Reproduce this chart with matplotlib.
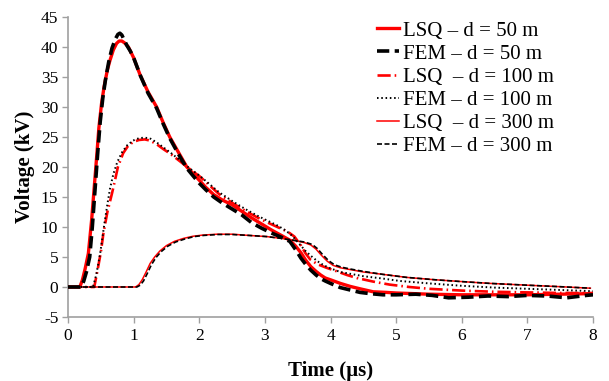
import matplotlib
matplotlib.use("Agg")
import matplotlib.pyplot as plt

plt.rcParams['font.family'] = ['Liberation Serif', 'DejaVu Serif']
plt.rcParams['axes.unicode_minus'] = False

# ---- data ----
t_lsq50 = [0, 0.18, 0.22, 0.26, 0.31, 0.36, 0.40, 0.44, 0.47, 0.51, 0.55, 0.60, 0.64, 0.69, 0.74, 0.78, 0.82, 0.86,
           0.92, 1.0, 1.1, 1.22, 1.35, 1.45, 1.55, 1.68, 1.81, 1.9, 2.0, 2.1, 2.22, 2.35, 2.5, 2.65, 2.8, 2.95, 3.1,
           3.25, 3.38, 3.47, 3.55, 3.62, 3.7, 3.78, 3.85, 3.92, 4.0, 4.15, 4.3, 4.45, 4.65, 4.85, 5.0, 5.5, 6.0, 7.0, 8.0]
v_lsq50 = [0, 0, 1.2, 3.0, 5.6, 11.2, 16.7, 22.2, 26.5, 30.5, 33.4, 36.2, 37.8, 39.5, 40.6, 41.0, 41.0, 40.7,
           40.0, 38.2, 35.3, 32.5, 30.0, 27.4, 25.0, 22.5, 20.0, 19.0, 17.8, 16.6, 15.4, 14.5, 13.7, 12.6, 11.5, 10.5, 9.5,
           8.6, 7.8, 6.8, 5.7, 4.5, 3.4, 2.6, 2.0, 1.5, 1.2, 0.6, 0.1, -0.3, -0.8, -0.9, -1.0, -1.2, -1.3, -1.3, -1.1]

t_fem50 = [0, 0.20, 0.24, 0.28, 0.33, 0.37, 0.41, 0.45, 0.49, 0.53, 0.57, 0.62, 0.67, 0.72, 0.76, 0.79, 0.82, 0.85,
           0.9, 0.95, 1.0, 1.1, 1.22, 1.35, 1.45, 1.55, 1.68, 1.81, 1.9, 2.0, 2.1, 2.22, 2.35, 2.5, 2.65, 2.8, 2.95,
           3.1, 3.25, 3.38, 3.47, 3.55, 3.62, 3.7, 3.78, 3.85, 3.92, 4.0, 4.15, 4.3, 4.45, 4.6, 4.8, 5.0, 5.3, 5.55,
           5.8, 6.1, 6.4, 6.7, 7.0, 7.3, 7.6, 7.9, 8.0]
v_fem50 = [0, 0, 1.0, 2.5, 5.0, 10.0, 16.0, 22.0, 27.5, 31.5, 34.5, 37.5, 39.8, 41.3, 42.1, 42.3, 42.0, 41.3,
           40.2, 39.3, 38.2, 35.3, 32.3, 29.8, 27.2, 24.8, 22.2, 19.8, 18.6, 17.3, 16.2, 15.0, 14.0, 13.0, 12.0, 10.7, 9.8,
           9.0, 8.3, 7.6, 6.2, 4.8, 3.8, 2.8, 2.0, 1.4, 1.0, 0.6, -0.1, -0.5, -0.9, -1.1, -1.3, -1.3, -1.2, -1.4,
           -1.8, -1.7, -1.5, -1.6, -1.4, -1.5, -1.8, -1.4, -1.3]

t_lsq100 = [0, 0.40, 0.45, 0.50, 0.54, 0.60, 0.67, 0.72, 0.76, 0.84, 0.92, 1.0, 1.08, 1.17, 1.25, 1.35, 1.45, 1.56,
            1.7, 1.85, 2.01, 2.15, 2.3, 2.52, 2.7, 2.9, 3.05, 3.23, 3.35, 3.45, 3.55, 3.62, 3.69, 3.8, 3.94, 4.1, 4.25,
            4.4, 4.65, 4.9, 5.2, 5.5, 6.0, 6.5, 7.0, 7.5, 8.0]
v_lsq100 = [0, 0, 2.8, 5.8, 9.0, 12.5, 15.6, 18.0, 20.0, 22.3, 23.6, 24.2, 24.5, 24.6, 24.4, 23.8, 23.0, 22.2,
            21.0, 19.7, 18.4, 17.0, 15.5, 13.9, 12.7, 11.5, 10.7, 9.8, 9.2, 8.4, 6.9, 5.6, 4.6, 3.8, 3.2, 2.6, 2.0,
            1.5, 0.9, 0.4, 0.0, -0.3, -0.6, -0.8, -0.9, -1.0, -1.0]

t_fem100 = [0, 0.38, 0.43, 0.49, 0.56, 0.60, 0.64, 0.69, 0.75, 0.82, 0.90, 0.99, 1.08, 1.17, 1.26, 1.35, 1.45, 1.56,
            1.7, 1.85, 2.01, 2.15, 2.3, 2.52, 2.7, 2.9, 3.05, 3.2, 3.32, 3.42, 3.54, 3.62, 3.7, 3.8, 3.9, 4.0, 4.15,
            4.3, 4.5, 4.8, 5.06, 5.5, 6.0, 6.5, 7.0, 7.5, 8.0]
v_fem100 = [0, 0, 2.0, 5.6, 11.0, 13.8, 16.4, 18.8, 20.8, 22.4, 23.6, 24.4, 24.8, 24.9, 24.7, 24.1, 23.3, 22.4,
            21.2, 19.8, 18.5, 17.2, 15.8, 14.2, 13.0, 11.8, 11.0, 10.2, 9.4, 8.5, 7.0, 6.0, 5.2, 4.3, 3.6, 3.1, 2.5,
            2.2, 1.8, 1.4, 1.0, 0.6, 0.2, -0.1, -0.3, -0.5, -0.7]

t_lsq300 = [0, 1.03, 1.08, 1.13, 1.19, 1.25, 1.32, 1.40, 1.50, 1.62, 1.76, 1.90, 2.05, 2.27, 2.5, 2.75, 3.03, 3.25,
            3.43, 3.6, 3.7, 3.78, 3.86, 3.95, 4.04, 4.15, 4.3, 4.5, 4.8, 5.16, 5.6, 6.0, 6.43, 7.0, 7.5, 7.96]
v_lsq300 = [0, 0, 0.4, 1.2, 2.5, 3.9, 5.0, 6.0, 6.9, 7.6, 8.1, 8.45, 8.65, 8.8, 8.8, 8.6, 8.4, 8.1,
            7.8, 7.4, 7.0, 6.3, 5.3, 4.3, 3.6, 3.2, 2.9, 2.5, 2.1, 1.6, 1.2, 0.9, 0.6, 0.3, 0.05, -0.2]

t_fem300 = [0, 1.05, 1.10, 1.15, 1.21, 1.27, 1.34, 1.42, 1.52, 1.64, 1.78, 1.92, 2.07, 2.29, 2.5, 2.75, 3.03, 3.25,
            3.43, 3.6, 3.72, 3.8, 3.88, 3.97, 4.06, 4.17, 4.3, 4.5, 4.8, 5.16, 5.6, 6.0, 6.43, 7.0, 7.5, 7.96]
v_fem300 = [0, 0, 0.3, 1.0, 2.3, 3.7, 4.9, 5.9, 6.8, 7.5, 8.0, 8.4, 8.6, 8.75, 8.75, 8.6, 8.4, 8.1,
            7.8, 7.5, 7.1, 6.4, 5.4, 4.4, 3.7, 3.3, 3.0, 2.6, 2.1, 1.6, 1.2, 0.9, 0.6, 0.3, 0.05, -0.2]

labels = ["LSQ \u2013 d = 50 m", "FEM \u2013 d = 50 m", "LSQ  \u2013 d = 100 m",
          "FEM \u2013 d = 100 m", "LSQ  \u2013 d = 300 m", "FEM \u2013 d = 300 m"]
x_ticks = [0, 1, 2, 3, 4, 5, 6, 7, 8]
y_ticks = [-5, 0, 5, 10, 15, 20, 25, 30, 35, 40, 45]

fig = plt.figure(figsize=(6.09, 3.81), dpi=100)
ax = fig.add_axes([0.1117, 0.168, 0.862, 0.7874])

ax.plot(t_lsq50, v_lsq50, color='#ff0000', lw=2.4, solid_joinstyle='round', label=labels[0], zorder=3)
ax.plot(t_fem50, v_fem50, color='black', lw=2.6, dashes=(3.4, 1.5), label=labels[1], zorder=4)
ax.plot(t_lsq100, v_lsq100, color='#ff0000', lw=1.9, dashes=(5, 1.5, 0.6, 1.5), label=labels[2], zorder=3)
ax.plot(t_fem100, v_fem100, color='black', lw=1.4, dashes=(0.8, 1.4), label=labels[3], zorder=4)
ax.plot(t_lsq300, v_lsq300, color='#ff0000', lw=1.1, label=labels[4], zorder=3)
ax.plot(t_fem300, v_fem300, color='black', lw=1.2, dashes=(3, 1.5), label=labels[5], zorder=4)

ax.set_xlim(0, 8)
ax.set_ylim(-5, 45)
ax.set_xticks(x_ticks)
ax.set_yticks(y_ticks)
ax.tick_params(axis='both', labelsize=12.5, color='#a0a0a0', length=4, width=1, direction='out')
ax.tick_params(axis='x', pad=4)
ax.tick_params(axis='y', pad=3)
for s in ['top', 'right']:
    ax.spines[s].set_visible(False)
for s in ['left', 'bottom']:
    ax.spines[s].set_color('#a0a0a0')
    ax.spines[s].set_linewidth(1.2)

ax.set_xlabel("Time (\u00b5s)", fontsize=15, fontweight='bold', labelpad=12)
ax.set_ylabel("Voltage (kV)", fontsize=15, fontweight='bold', labelpad=4)

leg = fig.legend(loc='upper left', bbox_to_anchor=(377/609, 1 - 21/381), frameon=False,
                 fontsize=15, handlelength=1.05, handletextpad=0.2, labelspacing=0.17,
                 borderpad=0, borderaxespad=0)

fig.savefig("out.png", dpi=100)
